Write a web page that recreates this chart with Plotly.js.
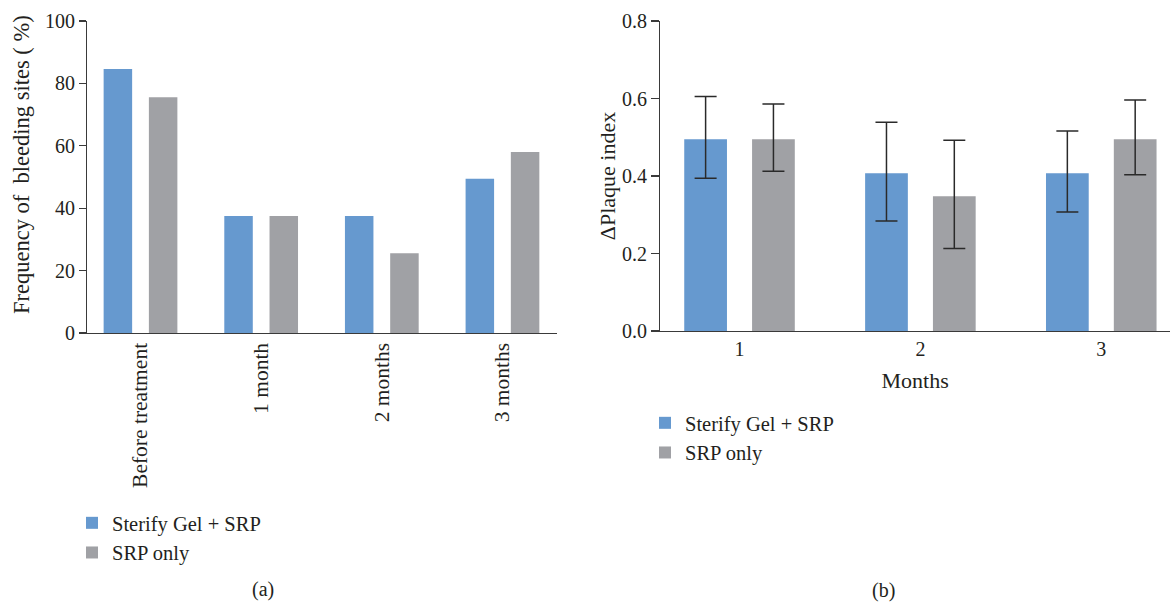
<!DOCTYPE html>
<html>
<head>
<meta charset="utf-8">
<script src="https://cdn.plot.ly/plotly-3.0.1.min.js"></script>
<style>
  html, body { margin: 0; padding: 0; background: #ffffff; }
  #chart { width: 1170px; height: 603px; }
</style>
</head>
<body>
<div id="chart"></div>
<script>
// ---- Data ----
const seriesNames = ['Sterify Gel + SRP', 'SRP only'];

// Panel (a): frequency of bleeding sites (%)
const bleedCategories = ['Before treatment', '1 month', '2 months', '3 months'];
const bleedGel = [84.6, 37.5, 37.5, 49.4];
const bleedSrp = [75.6, 37.5, 25.6, 58.0];

// Panel (b): delta plaque index with error bars
const plaqueMonths = ['1', '2', '3'];
const plaqueGel = [0.495, 0.407, 0.407];
const plaqueGelErrPlus = [0.110, 0.132, 0.109];
const plaqueGelErrMinus = [0.101, 0.123, 0.100];
const plaqueSrp = [0.495, 0.348, 0.495];
const plaqueSrpErrPlus = [0.091, 0.144, 0.101];
const plaqueSrpErrMinus = [0.083, 0.135, 0.092];

const yTicksA = [0, 20, 40, 60, 80, 100];
const yTicksB = [0, 0.2, 0.4, 0.6, 0.8];

const yTitleA = 'Frequency of\u00A0 bleeding sites ( %)';
const yTitleB = 'ΔPlaque index';
const xTitleB = 'Months';
const panelLabels = ['(a)', '(b)'];

// ---- Styles ----
const BLUE = '#6699cf';
const GRAY = '#a0a1a5';
const TEXT = '#231f20';
const AXIS = '#3a3a3a';
const FONT = "'Liberation Serif', 'Times New Roman', serif";

const errStyle = { color: '#2a2a2a', thickness: 1.5, width: 11 };

const traces = [
  { type: 'bar', name: seriesNames[0], x: bleedCategories, y: bleedGel,
    marker: { color: BLUE }, xaxis: 'x', yaxis: 'y', legend: 'legend', hoverinfo: 'x+y' },
  { type: 'bar', name: seriesNames[1], x: bleedCategories, y: bleedSrp,
    marker: { color: GRAY }, xaxis: 'x', yaxis: 'y', legend: 'legend', hoverinfo: 'x+y' },
  { type: 'bar', name: seriesNames[0], x: plaqueMonths, y: plaqueGel,
    marker: { color: BLUE }, xaxis: 'x2', yaxis: 'y2', legend: 'legend2',
    error_y: Object.assign({ type: 'data', symmetric: false, array: plaqueGelErrPlus, arrayminus: plaqueGelErrMinus, visible: true }, errStyle) },
  { type: 'bar', name: seriesNames[1], x: plaqueMonths, y: plaqueSrp,
    marker: { color: GRAY }, xaxis: 'x2', yaxis: 'y2', legend: 'legend2',
    error_y: Object.assign({ type: 'data', symmetric: false, array: plaqueSrpErrPlus, arrayminus: plaqueSrpErrMinus, visible: true }, errStyle) }
];

const W = 1170, H = 603;
const px = v => v / W;
const py = v => (H - v) / H;

const baseAxis = {
  showline: true, linecolor: AXIS, linewidth: 1.3,
  showgrid: false, zeroline: false, fixedrange: true,
  tickcolor: AXIS, tickwidth: 1.3
};

const layout = {
  width: W, height: H,
  margin: { l: 0, r: 0, t: 0, b: 0 },
  paper_bgcolor: '#ffffff', plot_bgcolor: '#ffffff',
  font: { family: FONT, size: 20, color: TEXT },
  barmode: 'group', bargap: 0.25, bargroupgap: 0.37,
  showlegend: true,
  xaxis: Object.assign({}, baseAxis, {
    anchor: 'y', domain: [px(87.3), px(557)], range: [-0.441, 3.452],
    type: 'category', ticks: '', tickangle: -90, tickfont: { size: 21.5 }
  }),
  yaxis: Object.assign({}, baseAxis, {
    anchor: 'x', domain: [py(333), py(21)], range: [0, 100],
    tickvals: yTicksA, ticks: 'outside', ticklen: 7
  }),
  xaxis2: Object.assign({}, baseAxis, {
    anchor: 'y2', domain: [px(660.3), 1], range: [-0.438, 2.38],
    type: 'category', ticks: '',
    title: { text: xTitleB, font: { size: 22 }, standoff: 13 }
  }),
  yaxis2: Object.assign({}, baseAxis, {
    anchor: 'x2', domain: [py(331), py(21)], range: [0, 0.8],
    tickvals: yTicksB, tickformat: '.1f', ticks: 'outside', ticklen: 8,
    title: { text: yTitleB, font: { size: 22 }, standoff: 0 }
  }),
  legend: {
    x: px(72), y: py(503), xanchor: 'left', yanchor: 'top',
    bgcolor: 'rgba(0,0,0,0)', font: { size: 20.5, color: TEXT }, traceorder: 'normal'
  },
  legend2: {
    x: px(645), y: py(403), xanchor: 'left', yanchor: 'top',
    bgcolor: 'rgba(0,0,0,0)', font: { size: 20.5, color: TEXT }, traceorder: 'normal'
  },
  annotations: [
    { text: yTitleA, xref: 'paper', yref: 'paper', x: px(22), y: py(165), textangle: -90,
      showarrow: false, xanchor: 'center', yanchor: 'middle', font: { size: 22.5, color: TEXT } },
    { text: panelLabels[0], xref: 'paper', yref: 'paper', x: px(263), y: py(589), showarrow: false,
      xanchor: 'center', yanchor: 'middle', font: { size: 20, color: TEXT } },
    { text: panelLabels[1], xref: 'paper', yref: 'paper', x: px(883), y: py(590), showarrow: false,
      xanchor: 'center', yanchor: 'middle', font: { size: 20, color: TEXT } }
  ]
};

Plotly.newPlot('chart', traces, layout, { displayModeBar: false, staticPlot: true });
</script>
</body>
</html>
